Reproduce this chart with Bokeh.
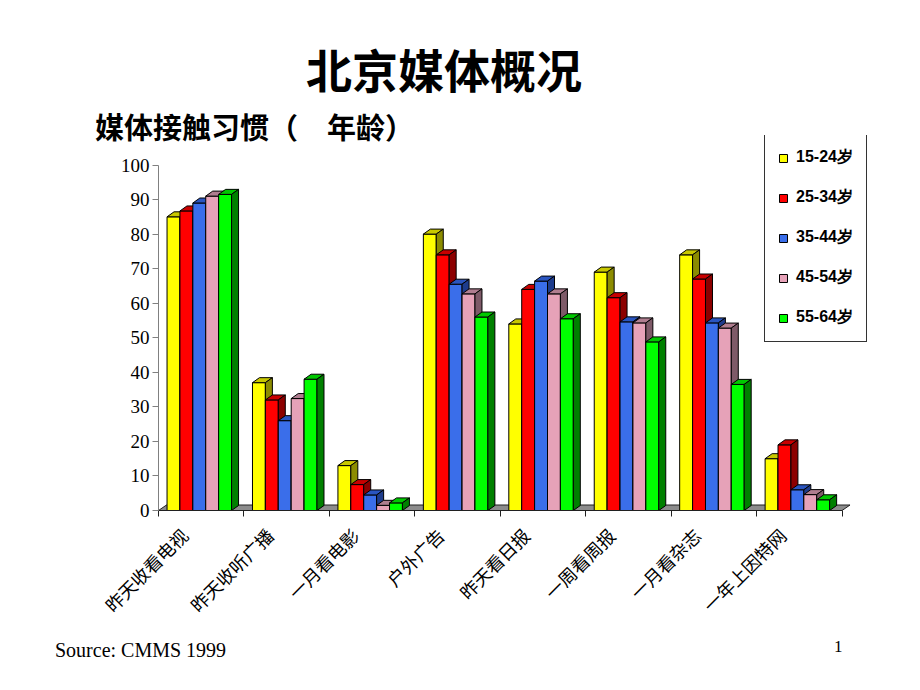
import math
from bokeh.plotting import figure
from bokeh.layouts import column
from bokeh.models import Range1d, FixedTicker, Legend, LegendItem, Div
from bokeh.embed import file_html
from bokeh.resources import INLINE

# ---------------- data ----------------
categories = ["昨天收看电视", "昨天收听广播", "一月看电影", "户外广告",
              "昨天看日报", "一周看周报", "一月看杂志", "一年上因特网"]
series_names = ["15-24岁", "25-34岁", "35-44岁", "45-54岁", "55-64岁"]
age_15_24 = [85, 37, 13, 80, 54, 69, 74, 15]
age_25_34 = [86.7, 32, 7.5, 74, 64, 61.6, 67, 19]
age_35_44 = [89, 26, 4.5, 65.5, 66.4, 54.6, 54.3, 6]
age_45_54 = [91, 32.4, 1.5, 62.7, 62.7, 54.3, 52.8, 4.6]
age_55_64 = [91.5, 38, 2.2, 56, 55.5, 48.8, 36.5, 3.1]
y_ticks = [0, 10, 20, 30, 40, 50, 60, 70, 80, 90, 100]

series_values = [age_15_24, age_25_34, age_35_44, age_45_54, age_55_64]
front_colors = ["#FFFF00", "#FF0000", "#3A6EEA", "#E6A2B8", "#00FF00"]
top_colors = ["#C8C800", "#C80000", "#2A55C0", "#B07E90", "#00C800"]
side_colors = ["#8C8C00", "#8C0000", "#1E3C8C", "#7E5A68", "#008000"]

# ---------------- layout constants (canvas px) ----------------
W = 920
HEAD_H = 135
MAIN_TOP, MAIN_BOT = HEAD_H, 630
FOOT_H = 690 - MAIN_BOT
FL, FR, FT, FB = 158, 870, 135, 510
X_UNIT_PX = 85.44
Y_UNIT_PX = 3.455
x_end = (FR - FL) / X_UNIT_PX
y_end = (FB - FT) / Y_UNIT_PX

bar_w = 0.151
grp_off = 0.10
depth_x = 7 / X_UNIT_PX
depth_y = 5 / Y_UNIT_PX

# ---------------- header ----------------
head_html = (
    '<div style="position:relative;width:920px;height:135px;overflow:visible;">'
    '<span style="position:absolute;left:0;top:45px;width:888px;text-align:center;'
    'font-family:\'Noto Sans CJK SC\';font-weight:bold;font-size:46px;line-height:46px;'
    'color:black;white-space:nowrap;">北京媒体概况</span>'
    '<span style="position:absolute;left:95px;top:112px;'
    'font-family:\'Noto Sans CJK SC\';font-weight:bold;font-size:29px;line-height:29px;'
    'color:black;white-space:nowrap;">媒体接触习惯（\u3000年龄）</span>'
    '</div>'
)
head = Div(text=head_html, width=W, height=HEAD_H, margin=0,
           styles={"overflow": "visible"})

# ---------------- main chart ----------------
p = figure(width=W, height=MAIN_BOT - MAIN_TOP, output_backend="svg", toolbar_location=None,
           x_range=Range1d(0, x_end), y_range=Range1d(0, y_end),
           min_border_left=FL, min_border_right=W - FR,
           min_border_top=FT - MAIN_TOP, min_border_bottom=MAIN_BOT - FB,
           background_fill_alpha=0, border_fill_alpha=0, margin=0)
p.outline_line_color = None
p.xgrid.visible = False
p.ygrid.visible = False

n = len(categories)
fdx = 8 / X_UNIT_PX
fdy = 5.5 / Y_UNIT_PX
p.patch([0, n, n + fdx, fdx], [0, 0, fdy, fdy],
        fill_color="#8C8C8C", line_color="#202020", line_width=1)

legend_items = []
for j, vals in enumerate(series_values):
    fx, fy, tx, ty, sx, sy = [], [], [], [], [], []
    for i, v in enumerate(vals):
        x0 = i + grp_off + j * bar_w
        x1 = x0 + bar_w
        fx.append([x0, x1, x1, x0]); fy.append([0, 0, v, v])
        tx.append([x0, x1, x1 + depth_x, x0 + depth_x]); ty.append([v, v, v + depth_y, v + depth_y])
        sx.append([x1, x1 + depth_x, x1 + depth_x, x1]); sy.append([0, depth_y, v + depth_y, v])
    r = p.patches(fx, fy, fill_color=front_colors[j], line_color="black", line_width=1)
    p.patches(tx, ty, fill_color=top_colors[j], line_color="black", line_width=1)
    p.patches(sx, sy, fill_color=side_colors[j], line_color="black", line_width=1)
    legend_items.append(LegendItem(label=series_names[j], renderers=[r]))

label_pos = [i + 0.30 for i in range(n)]
xa = p.xaxis[0]
xa.ticker = FixedTicker(ticks=label_pos, minor_ticks=list(range(n + 1)))
xa.major_label_overrides = {label_pos[i]: categories[i] for i in range(n)}
xa.major_tick_line_color = None
xa.major_tick_in = 0
xa.major_tick_out = 0
xa.minor_tick_in = 0
xa.minor_tick_out = 6
xa.minor_tick_line_color = "#202020"
xa.axis_line_color = "#202020"
xa.bounds = (0, n)
xa.major_label_orientation = math.pi / 4
xa.major_label_standoff = 15
xa.major_label_text_font = "Noto Sans CJK SC"
xa.major_label_text_font_size = "18px"
xa.major_label_text_color = "black"

ya = p.yaxis[0]
ya.ticker = FixedTicker(ticks=y_ticks)
ya.bounds = (0, 100)
ya.axis_line_color = "#808080"
ya.major_tick_line_color = "#808080"
ya.major_tick_in = 0
ya.major_tick_out = 6
ya.minor_tick_line_color = None
ya.major_label_standoff = 3
ya.major_label_text_font = "Liberation Serif"
ya.major_label_text_font_size = "19px"
ya.major_label_text_color = "black"

legend = Legend(items=legend_items, location=(764 - FL, FB - 342),
                orientation="vertical",
                glyph_width=10, glyph_height=10, label_height=20,
                spacing=19, padding=13, margin=0, label_standoff=8,
                label_text_font="Liberation Sans", label_text_font_style="bold",
                label_text_font_size="16px", label_text_color="black",
                border_line_color="#333333", border_line_width=1, border_line_alpha=1,
                background_fill_color="white", background_fill_alpha=1)
p.add_layout(legend, "center")

# ---------------- footer ----------------
foot_html = (
    '<div style="position:relative;width:920px;height:60px;">'
    '<span style="position:absolute;left:55px;top:10px;'
    'font-family:\'Liberation Serif\';font-size:20px;line-height:20px;'
    'color:black;white-space:nowrap;">Source: CMMS 1999</span>'
    '<span style="position:absolute;left:834px;top:8px;'
    'font-family:\'Liberation Serif\';font-size:17px;line-height:17px;'
    'color:black;white-space:nowrap;">1</span>'
    '</div>'
)
foot = Div(text=foot_html, width=W, height=FOOT_H, margin=0)

layout = column(head, p, foot, spacing=0)
open("out.html", "w").write(file_html(layout, INLINE))
